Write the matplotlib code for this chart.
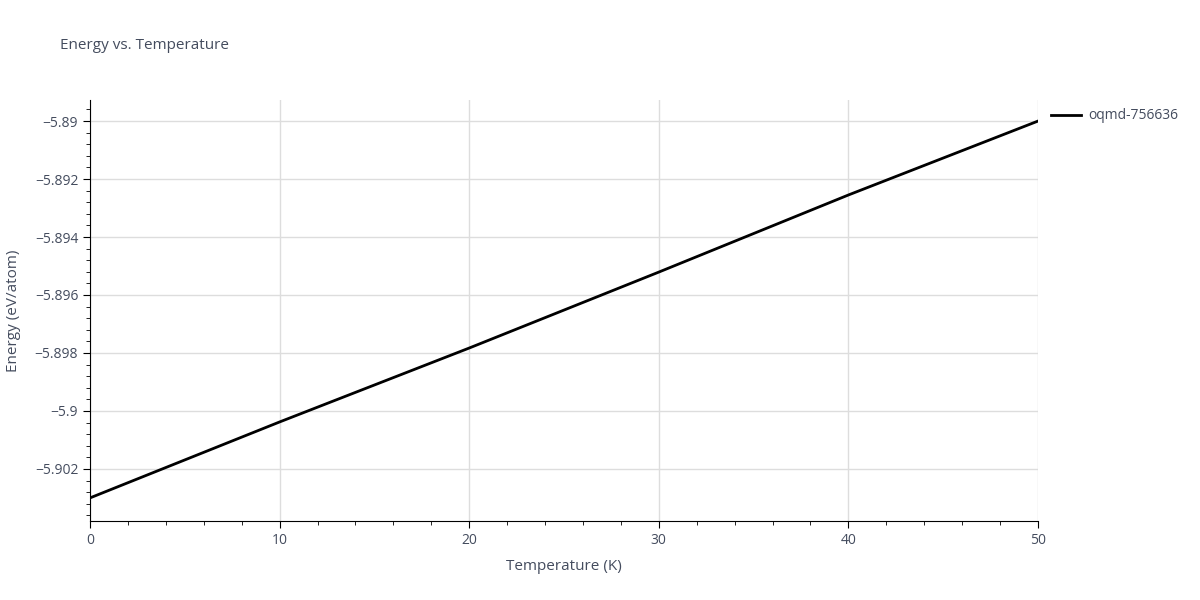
import numpy as np
import matplotlib
matplotlib.use("Agg")
from matplotlib import pyplot as plt
from matplotlib.ticker import FuncFormatter, MultipleLocator

temperature = [0, 10, 20, 30, 40, 50]
energy = [-5.90300, -5.90038, -5.89783, -5.89521, -5.89255, -5.89000]
series_name = "oqmd-756636"

plt.rcParams['font.family'] = ['Open Sans', 'DejaVu Sans']
text_color = '#444c5e'

fig = plt.figure(figsize=(12, 6), dpi=100)
ax = fig.add_axes([0.075, 0.132, 0.79, 0.701])
ax.plot(temperature, energy, color='black', linewidth=2, label=series_name)

ax.set_xlim(0, 50)
ax.set_ylim(-5.90379, -5.88928)
ax.xaxis.set_major_locator(MultipleLocator(10))
ax.xaxis.set_minor_locator(MultipleLocator(2))
ax.yaxis.set_major_locator(MultipleLocator(0.002))
ax.yaxis.set_minor_locator(MultipleLocator(0.0004))


def fmt(v, pos):
    s = f"{v:.3f}".rstrip('0').rstrip('.')
    return s.replace('-', '\u2212')


ax.yaxis.set_major_formatter(FuncFormatter(fmt))
ax.grid(True, which='major', color='#dddddd', linewidth=1)
ax.set_axisbelow(True)
for side in ['top', 'right']:
    ax.spines[side].set_visible(False)
for side in ['left', 'bottom']:
    ax.spines[side].set_color('black')
ax.tick_params(which='both', direction='out', colors='black', labelcolor=text_color, labelsize=10)
ax.tick_params(which='major', length=5)
ax.tick_params(which='minor', length=3)

ax.set_xlabel('Temperature (K)', color=text_color, fontsize=11, labelpad=8)
ax.set_ylabel('Energy (eV/atom)', color=text_color, fontsize=11, labelpad=10)
fig.text(0.05, 0.918, 'Energy vs. Temperature', color=text_color, fontsize=11)

ax.legend(loc='upper left', bbox_to_anchor=(1.0, 1.01), frameon=False,
          fontsize=10, labelcolor=text_color, handlelength=2.2, handletextpad=0.5)

fig.savefig('out.png', dpi=100)
